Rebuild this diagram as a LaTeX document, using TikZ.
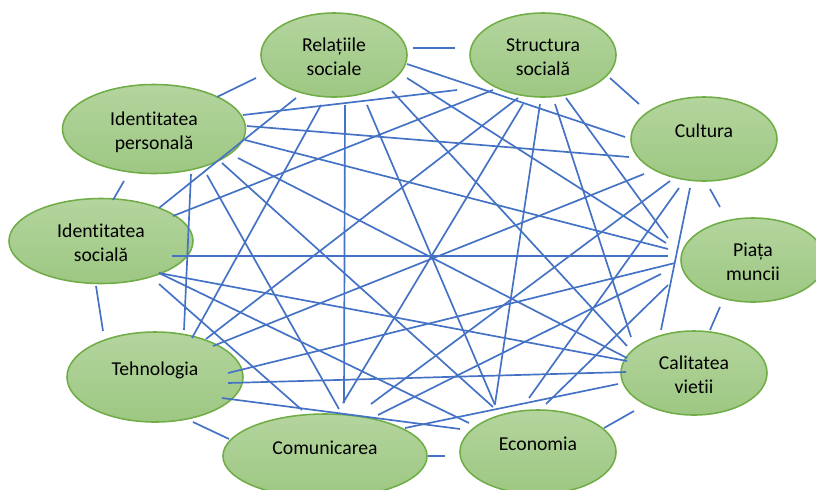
\documentclass[tikz,border=0pt]{standalone}
\usepackage{fontspec}
\setmainfont{Carlito}[Ligatures=NoCommon]
\usetikzlibrary{calc}
\usetikzlibrary{shapes.geometric}

\definecolor{leafline}{HTML}{70AD47}
\definecolor{leaftop}{HTML}{B4D59E}
\definecolor{leafbot}{HTML}{9DC782}
\definecolor{wire}{HTML}{4472C4}

\begin{document}
\begin{tikzpicture}[x=0.025cm, y=-0.025cm,
    blob/.style={ellipse, draw=leafline, line width=1.1pt, top color=leaftop, bottom color=leafbot,
        inner sep=0pt, align=center, font=\fontsize{14pt}{17.7pt}\selectfont,
        text height=32.8pt, text depth=3pt},
    blob one/.style={text height=9pt, text depth=11.8pt},
    link/.style={draw=wire, line width=1.2pt}]
    \useasboundingbox (0,0) rectangle (816,489);
    \clip (0,0) rectangle (816,489);

    \draw (334, 55) node[blob, minimum width=3.65cm, minimum height=2.1cm] (rs) {Relațiile\\sociale};
    \draw (543, 55) node[blob, minimum width=3.65cm, minimum height=2.1cm] (ss) {Structura\\socială};
    \draw (704, 139) node[blob, blob one, minimum width=3.65cm, minimum height=2.1cm] (cu) {Cultura};
    \draw (753, 260) node[blob, minimum width=3.6cm, minimum height=2.1cm] (pm) {Piața\\muncii};
    \draw (694, 373) node[blob, minimum width=3.65cm, minimum height=2.1cm] (cv) {Calitatea\\vietii};
    \draw (538, 452) node[blob, blob one, minimum width=3.9cm, minimum height=2.1cm] (ec) {Economia};
    \draw (325, 456) node[blob, blob one, minimum width=5.1cm, minimum height=2.1cm] (co) {Comunicarea};
    \draw (155, 377) node[blob, blob one, minimum width=4.4cm, minimum height=2.25cm] (te) {Tehnologia};
    \draw (101, 241) node[blob, minimum width=4.6cm, minimum height=2.125cm] (is) {Identitatea\\socială};
    \draw (154, 129) node[blob, minimum width=4.575cm, minimum height=2.225cm] (ip) {Identitatea\\personală};

    % neighbours on the ring
    \draw[link] ($(rs)+(79,-7)$) -- ($(ss)+(-88,-7)$);
    \draw[link] ($(ss)+(67,23)$) -- ($(cu)+(-65,-35)$);
    \draw[link] ($(cu)+(6,50)$) -- ($(pm)+(-33,-53)$);
    \draw[link] ($(pm)+(-33,47)$) -- ($(cv)+(16,-43)$);
    \draw[link] ($(cv)+(-60,38)$) -- ($(ec)+(66,-24)$);
    \draw[link] ($(ec)+(-93,4)$) -- ($(co)+(103,0)$);
    \draw[link] ($(co)+(-96,-17)$) -- ($(te)+(38,45)$);
    \draw[link] ($(te)+(-52,-46)$) -- ($(is)+(-5,45)$);
    \draw[link] ($(is)+(12,-41)$) -- ($(ip)+(-30,52)$);
    \draw[link] ($(ip)+(63,-32)$) -- ($(rs)+(-78,23)$);

    % across the ring
    \draw[link] ($(rs)+(-38,43)$) -- ($(is)+(58,-33)$);
    \draw[link] ($(rs)+(-13,50)$) -- ($(te)+(37,-39)$);
    \draw[link] ($(rs)+(11,50)$) -- ($(co)+(19,-53)$);
    \draw[link] ($(rs)+(33,50)$) -- ($(ec)+(-43,-47)$);
    \draw[link] ($(rs)+(58,36)$) -- ($(cv)+(-67,-27)$);
    \draw[link] ($(rs)+(73,23)$) -- ($(pm)+(-87,-17)$);
    \draw[link] ($(rs)+(73,9)$) -- ($(cu)+(-79,-2)$);
    \draw[link] ($(ip)+(89,-14)$) -- ($(ss)+(-86,35)$);
    \draw[link] ($(ip)+(93,-3)$) -- ($(cu)+(-75,18)$);
    \draw[link] ($(ip)+(91,11)$) -- ($(pm)+(-85,-11)$);
    \draw[link] ($(ip)+(84,29)$) -- ($(cv)+(-67,-15)$);
    \draw[link] ($(ip)+(68,34)$) -- ($(ec)+(-45,-45)$);
    \draw[link] ($(ip)+(53,46)$) -- ($(co)+(14,-47)$);
    \draw[link] ($(ip)+(37,45)$) -- ($(te)+(29,-47)$);
    \draw[link] ($(is)+(72,-25)$) -- ($(ss)+(-50,35)$);
    \draw[link] ($(is)+(71,15)$) -- ($(pm)+(-85,-4)$);
    \draw[link] ($(is)+(58,32)$) -- ($(cv)+(-67,-12)$);
    \draw[link] ($(is)+(58,32)$) -- ($(ec)+(-69,-29)$);
    \draw[link] ($(is)+(58,43)$) -- ($(co)+(-23,-46)$);
    \draw[link] ($(te)+(51,-38)$) -- ($(ss)+(-25,43)$);
    \draw[link] ($(te)+(58,-31)$) -- ($(cu)+(-60,35)$);
    \draw[link] ($(te)+(73,-4)$) -- ($(pm)+(-78,3)$);
    \draw[link] ($(te)+(73,6)$) -- ($(cv)+(-68,-1)$);
    \draw[link] ($(te)+(67,21)$) -- ($(ec)+(-78,-23)$);
    \draw[link] ($(ss)+(-20,49)$) -- ($(co)+(18,-53)$);
    \draw[link] ($(ss)+(-3,49)$) -- ($(ec)+(-43,-48)$);
    \draw[link] ($(ss)+(12,49)$) -- ($(cv)+(-63,-36)$);
    \draw[link] ($(ss)+(23,43)$) -- ($(pm)+(-85,-22)$);
    \draw[link] ($(cu)+(-34,42)$) -- ($(co)+(46,-52)$);
    \draw[link] ($(cu)+(-25,49)$) -- ($(ec)+(-9,-54)$);
    \draw[link] ($(cu)+(-14,49)$) -- ($(cv)+(-33,-43)$);
    \draw[link] ($(co)+(53,-41)$) -- ($(pm)+(-92,14)$);
    \draw[link] ($(co)+(80,-28)$) -- ($(cv)+(-76,11)$);
    \draw[link] ($(ec)+(8,-48)$) -- ($(pm)+(-85,25)$);
\end{tikzpicture}
\end{document}
